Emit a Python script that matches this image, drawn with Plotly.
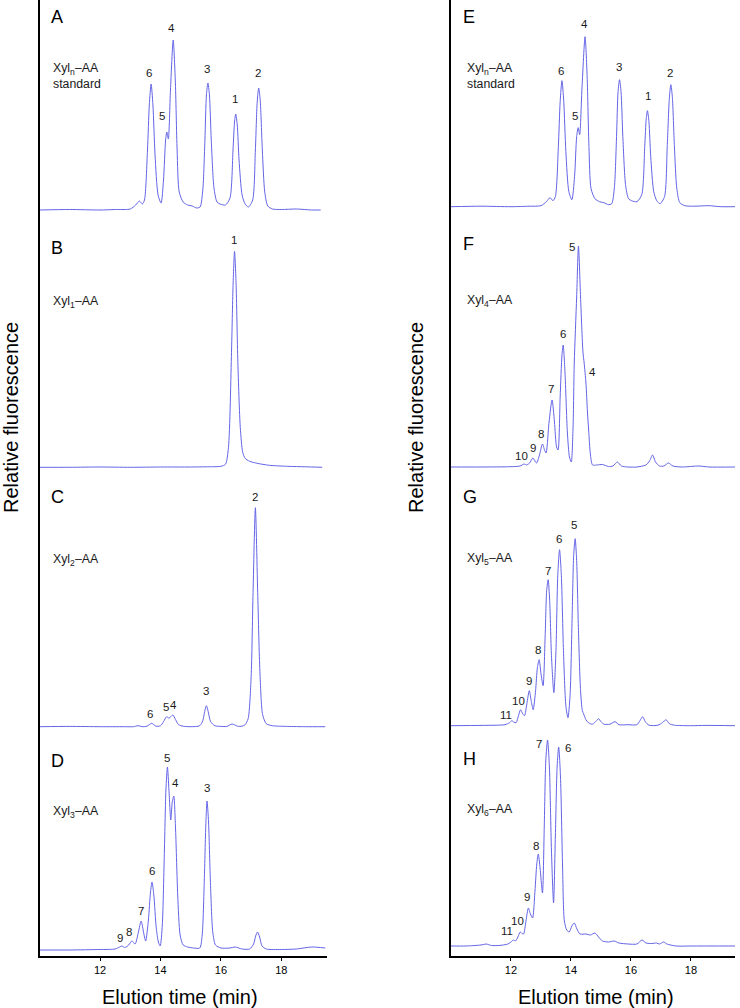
import plotly.graph_objects as go

# ---------------- data (elution time in min, relative fluorescence) ----------------
# Panel A: Xyln-AA standard
a_time = [10.0, 11.0, 12.0, 12.5, 13.0, 13.18, 13.30, 13.40, 13.47, 13.57, 13.63, 13.69, 13.75, 13.82, 13.92,
          14.02, 14.10, 14.17, 14.21, 14.26, 14.33, 14.42, 14.49, 14.55, 14.62, 14.75, 14.9, 15.05, 15.2, 15.31,
          15.40, 15.47, 15.52, 15.57, 15.62, 15.68, 15.77, 15.87, 15.97, 16.15, 16.30, 16.40, 16.45, 16.49, 16.54,
          16.60, 16.70, 16.80, 16.91, 17.05, 17.14, 17.20, 17.25, 17.30, 17.37, 17.45, 17.55, 17.7, 18.0, 18.5, 19.0, 19.3]
a_signal = [0, 0.5, 0, 0.5, 1, 5, 9, 6, 10, 60, 105, 126, 105, 55, 15,
            7, 30, 70, 78, 71, 120, 170, 130, 60, 18, 8, 5, 4, 2, 3,
            20, 70, 115, 127, 115, 70, 22, 8, 6, 5, 12, 60, 88, 96, 85,
            50, 15, 6, 3, 10, 60, 108, 122, 110, 60, 18, 4, 1, 0.5, 1, 0, 0]
a_labels = ["6", "5", "4", "3", "1", "2"]
a_label_time = [13.62, 14.05, 14.38, 15.53, 16.47, 17.23]
a_label_signal = [137, 94, 182, 141, 111, 137]

# Panel B: Xyl1-AA
b_time = [10.0, 11.0, 12.0, 13.0, 14.0, 15.0, 15.5, 16.0, 16.15, 16.25, 16.35, 16.40, 16.45, 16.50, 16.56,
          16.64, 16.72, 16.80, 16.95, 17.2, 17.6, 18.2, 18.8, 19.35]
b_signal = [0, 0, 0.3, 0, 0.3, 0.3, 0.5, 1, 3, 20, 115, 180, 216, 185, 105,
            40, 15, 9, 6, 4, 2, 1, 0.5, 0]
b_labels = ["1"]
b_label_time = [16.44]
b_label_signal = [227]

# Panel C: Xyl2-AA
c_time = [10.0, 11.0, 12.0, 12.8, 13.1, 13.26, 13.4, 13.55, 13.71, 13.85, 14.0, 14.1, 14.2, 14.28, 14.34,
          14.41, 14.5, 14.6, 14.75, 15.0, 15.3, 15.4, 15.46, 15.52, 15.58, 15.66, 15.8, 16.0, 16.2, 16.37,
          16.55, 16.7, 16.8, 16.9, 17.0, 17.06, 17.14, 17.22, 17.29, 17.38, 17.5, 17.7, 18.2, 18.8, 19.45]
c_signal = [0, 0.3, 0, 0, 0, 1, 0, 0.5, 3.4, 0.5, 1, 5, 10, 8.5, 10,
            11.7, 7, 2, 0.5, 0, 1, 6, 15, 21, 15, 5, 1, 0.3, 0.3, 2.7,
            0.5, 0.5, 2, 8, 50, 130, 219, 130, 55, 12, 3, 1, 0.3, 0, 0]
c_labels = ["2", "3", "5", "4", "6"]
c_label_time = [17.12, 15.52, 14.18, 14.44, 13.66]
c_label_signal = [230, 35.7, 20, 21.7, 12.4]

# Panel D: Xyl3-AA
d_time = [10.0, 11.0, 12.0, 12.5, 12.65, 12.72, 12.82, 12.95, 13.05, 13.16, 13.27, 13.36, 13.45, 13.51, 13.60,
          13.67, 13.72, 13.78, 13.86, 13.93, 13.99, 14.06, 14.13, 14.18, 14.23, 14.28, 14.34, 14.39, 14.44, 14.50,
          14.57, 14.65, 14.75, 14.9, 15.1, 15.3, 15.38, 15.45, 15.50, 15.54, 15.59, 15.65, 15.73, 15.82, 16.0,
          16.3, 16.47, 16.7, 16.95, 17.08, 17.15, 17.21, 17.28, 17.36, 17.5, 18.0, 18.5, 19.0, 19.45]
d_signal = [0, 0, 0.5, 1, 3, 4, 2.5, 5, 9, 6, 18, 29, 16, 9, 30,
            58, 68, 55, 22, 8, 4, 25, 100, 160, 183, 160, 130, 148, 154, 120,
            55, 15, 5, 3, 2, 2, 15, 70, 125, 149, 128, 70, 18, 5, 2,
            2, 3, 1, 1, 6, 14, 18, 13, 4, 1, 0.5, 1, 3, 2]
d_labels = ["5", "4", "3", "6", "7", "8", "9"]
d_label_time = [14.20, 14.49, 15.53, 13.73, 13.35, 12.97, 12.66]
d_label_signal = [192, 167, 162, 79, 39, 18.3, 12.3]

# Panel E: Xyln-AA standard
e_time = [10.0, 11.0, 12.0, 12.6, 13.0, 13.18, 13.30, 13.40, 13.48, 13.58, 13.64, 13.70, 13.76, 13.83, 13.93,
          14.03, 14.12, 14.19, 14.24, 14.29, 14.37, 14.47, 14.54, 14.60, 14.67, 14.8, 14.95, 15.1, 15.25, 15.36,
          15.45, 15.52, 15.57, 15.62, 15.67, 15.73, 15.82, 15.92, 16.02, 16.2, 16.36, 16.46, 16.51, 16.55, 16.60,
          16.66, 16.76, 16.86, 16.97, 17.12, 17.21, 17.28, 17.33, 17.38, 17.45, 17.53, 17.63, 17.8, 18.1, 18.6, 19.0, 19.47]
e_signal = [0, 0.5, 0, 0.5, 1, 5, 9, 6, 10, 60, 105, 126, 105, 55, 15,
            7, 30, 70, 79, 72, 120, 170, 130, 60, 18, 8, 5, 4, 2, 3,
            20, 70, 115, 127, 115, 70, 22, 8, 6, 5, 12, 60, 88, 96, 85,
            50, 15, 6, 3, 10, 60, 108, 122, 110, 60, 18, 4, 1, 0.5, 1, 0, 0]
e_labels = ["6", "5", "4", "3", "1", "2"]
e_label_time = [13.68, 14.14, 14.44, 15.61, 16.57, 17.31]
e_label_signal = [136, 90.7, 182.7, 139.4, 110.7, 133.4]

# Panel F: Xyl4-AA
f_time = [10.0, 11.0, 12.0, 12.3, 12.44, 12.52, 12.62, 12.73, 12.85, 12.95, 13.05, 13.12, 13.17, 13.27, 13.37,
          13.45, 13.52, 13.57, 13.64, 13.70, 13.74, 13.80, 13.88, 13.95, 14.01, 14.07, 14.11, 14.19, 14.25, 14.32,
          14.40, 14.44, 14.50, 14.55, 14.59, 14.65, 14.72, 14.85, 15.05, 15.25, 15.4, 15.55, 15.68, 15.9, 16.2,
          16.5, 16.62, 16.72, 16.82, 16.95, 17.1, 17.25, 17.4, 17.7, 18.27, 18.6, 19.47]
f_signal = [0, 0, 0.3, 1, 3, 2, 4, 9, 4, 12, 23, 17, 14, 45, 67,
            45, 20, 17, 70, 112, 122, 95, 35, 10, 5, 40, 104, 170, 221, 170,
            115, 104, 84, 55, 37, 12, 2, 2, 2.5, 0.5, 1, 5, 1, 0, 0,
            2, 6, 12, 5, 1, 1, 4, 1, 0, 1, 0, 0]
f_labels = ["5", "6", "4", "7", "8", "9", "10"]
f_label_time = [14.02, 13.74, 14.72, 13.35, 13.0, 12.72, 12.35]
f_label_signal = [219.7, 133, 95.3, 78, 32.7, 19.3, 11]

# Panel G: Xyl5-AA
g_time = [10.0, 11.0, 11.5, 11.8, 11.95, 12.03, 12.1, 12.17, 12.25, 12.32, 12.39, 12.45, 12.53, 12.61, 12.68,
          12.74, 12.82, 12.88, 12.94, 13.00, 13.07, 13.14, 13.19, 13.24, 13.29, 13.35, 13.43, 13.50, 13.56, 13.62,
          13.68, 13.75, 13.83, 13.90, 13.97, 14.04, 14.09, 14.14, 14.19, 14.25, 14.32, 14.38, 14.42, 14.5, 14.58,
          14.72, 14.85, 14.92, 15.0, 15.1, 15.3, 15.47, 15.6, 15.9, 16.2, 16.3, 16.39, 16.48, 16.6, 16.9,
          17.05, 17.17, 17.28, 17.45, 18.0, 18.5, 19.47]
g_signal = [0, 0.3, 0.5, 1, 3, 5, 3.5, 3, 10, 16, 12, 10, 22, 35, 24,
            16, 35, 58, 66, 52, 40, 90, 135, 146, 125, 70, 33, 75, 150, 176,
            150, 75, 20, 8, 30, 110, 170, 187, 165, 95, 35, 15, 12, 6, 3,
            1.5, 5, 7, 4, 1.5, 1.5, 4, 1, 1, 1, 5, 9, 4, 0.5, 0.5,
            3, 6, 2, 0.5, 0, 0.3, 0]
g_labels = ["5", "6", "7", "8", "9", "10", "11"]
g_label_time = [14.09, 13.61, 13.23, 12.89, 12.6, 12.25, 11.83]
g_label_signal = [200.7, 186.4, 154.7, 75.7, 45, 25, 10.7]

# Panel H: Xyl6-AA
h_time = [10.0, 10.5, 11.0, 11.17, 11.35, 11.6, 11.9, 12.0, 12.08, 12.15, 12.23, 12.31, 12.37, 12.42, 12.5,
          12.58, 12.65, 12.72, 12.80, 12.86, 12.91, 12.97, 13.05, 13.11, 13.16, 13.22, 13.28, 13.35, 13.42, 13.48,
          13.54, 13.59, 13.65, 13.72, 13.78, 13.86, 13.94, 14.03, 14.11, 14.2, 14.3, 14.5, 14.65, 14.8, 14.92,
          15.05, 15.25, 15.44, 15.6, 15.9, 16.2, 16.37, 16.5, 16.7, 16.85, 16.95, 17.09, 17.2, 17.5, 18.0, 19.47]
h_signal = [0, 0, 1, 2, 0.5, 0.5, 2, 4, 6, 5, 9, 14, 12.5, 12, 25,
            38, 32, 28, 55, 82, 92, 78, 53, 120, 185, 206, 180, 95, 43, 110,
            180, 199, 170, 80, 25, 16, 14, 20, 23, 17, 12, 12, 11, 13, 9,
            5, 4, 5, 3, 2, 2, 6, 3, 2.5, 3, 2, 4, 2, 0, 0, 0]
h_labels = ["7", "6", "8", "9", "10", "11"]
h_label_time = [12.94, 13.9, 12.85, 12.55, 12.22, 11.87]
h_label_signal = [201.7, 197.7, 100.3, 48.7, 25.3, 15]

panel_letters = ["A", "B", "C", "D", "E", "F", "G", "H"]
sample_names = ["Xyl<sub>n</sub>–AA<br>standard", "Xyl<sub>1</sub>–AA", "Xyl<sub>2</sub>–AA", "Xyl<sub>3</sub>–AA",
                "Xyl<sub>n</sub>–AA<br>standard", "Xyl<sub>4</sub>–AA", "Xyl<sub>5</sub>–AA", "Xyl<sub>6</sub>–AA"]
x_tick_values = [12, 14, 16, 18]
x_title = "Elution time (min)"
y_title = "Relative fluorescence"

series = [
    (a_time, a_signal, a_labels, a_label_time, a_label_signal),
    (b_time, b_signal, b_labels, b_label_time, b_label_signal),
    (c_time, c_signal, c_labels, c_label_time, c_label_signal),
    (d_time, d_signal, d_labels, d_label_time, d_label_signal),
    (e_time, e_signal, e_labels, e_label_time, e_label_signal),
    (f_time, f_signal, f_labels, f_label_time, f_label_signal),
    (g_time, g_signal, g_labels, g_label_time, g_label_signal),
    (h_time, h_signal, h_labels, h_label_time, h_label_signal),
]

# ---------------- layout geometry (pixels) ----------------
W, H = 740, 1008
PLOT_H = 956.0


def pxx(p):
    return p / W


def pxy(p):
    return 1 - p / PLOT_H


columns = [
    dict(x0=39.6, x1=326.7, rng=[10, 19.5], letter_x=48.5, name_x=51.0, ytitle_x=11.0, xtitle_x=180.0),
    dict(x0=451.0, x1=735.0, rng=[10, 19.47], letter_x=460.5, name_x=464.5, ytitle_x=416.0, xtitle_x=596.0),
]
# (top, bottom, baseline, letter_y, name_y) per panel
panel_geom = [
    (0, 225, 210, 17, 76.3), (225, 478, 467.3, 247.7, 302), (478, 740, 726.7, 496.7, 560), (740, 956, 950, 760.7, 811.7),
    (0, 225, 206.7, 16.7, 76.3), (225, 478, 467, 244, 300.7), (478, 733, 725.7, 497.3, 559.3), (733, 956, 946, 759.3, 810),
]

LINE_COLOR = "#6464e6"
FONT = "Liberation Sans, Arial, sans-serif"

fig = go.Figure()
annotations = []
layout_axes = {}

for i, (t, v, labs, lt, lv) in enumerate(series):
    n = i + 1
    col = columns[0] if i < 4 else columns[1]
    top, bottom, base, ly, ny = panel_geom[i]
    xa = "x" if n == 1 else f"x{n}"
    ya = "y" if n == 1 else f"y{n}"
    fig.add_trace(go.Scatter(x=t, y=v, mode="lines", xaxis=xa, yaxis=ya, showlegend=False,
                             line=dict(color=LINE_COLOR, width=1, shape="spline", smoothing=0.7),
                             hoverinfo="skip"))
    is_bottom = n in (4, 8)
    layout_axes["xaxis" if n == 1 else f"xaxis{n}"] = dict(
        domain=[pxx(col["x0"]), pxx(col["x1"])], range=col["rng"], anchor=ya,
        visible=is_bottom, showline=True, linecolor="black", linewidth=2,
        showticklabels=is_bottom,
        tickvals=x_tick_values, ticks="outside" if is_bottom else "", ticklen=3, tickwidth=1, tickcolor="black",
        tickfont=dict(family=FONT, size=11, color="black"),
        showgrid=False, zeroline=False, fixedrange=True)
    layout_axes["yaxis" if n == 1 else f"yaxis{n}"] = dict(
        domain=[pxy(bottom), pxy(top)], range=[-(bottom - base), base - top], anchor=xa,
        showline=True, linecolor="black", linewidth=2, showticklabels=False, ticks="",
        showgrid=False, zeroline=False, fixedrange=True)
    for s, xx, yy in zip(labs, lt, lv):
        annotations.append(dict(x=xx, y=yy, xref=xa, yref=ya, text=s, showarrow=False,
                                xanchor="center", yanchor="middle",
                                font=dict(family=FONT, size=11.5, color="#1a1a1a")))
    annotations.append(dict(x=pxx(col["letter_x"]), y=pxy(ly), xref="paper", yref="paper",
                            text=panel_letters[i], showarrow=False, xanchor="left", yanchor="middle",
                            font=dict(family=FONT, size=18, color="black")))
    annotations.append(dict(x=pxx(col["name_x"]), y=pxy(ny), xref="paper", yref="paper",
                            text=sample_names[i], showarrow=False, xanchor="left", yanchor="middle",
                            align="left", font=dict(family=FONT, size=12.3, color="#1a1a1a")))

for col in columns:
    annotations.append(dict(x=pxx(col["xtitle_x"]), y=pxy(997), xref="paper", yref="paper", text=x_title,
                            showarrow=False, xanchor="center", yanchor="middle",
                            font=dict(family=FONT, size=20, color="black")))
    annotations.append(dict(x=pxx(col["ytitle_x"]), y=pxy(418), xref="paper", yref="paper", text=y_title,
                            textangle=-90, showarrow=False, xanchor="center", yanchor="middle",
                            font=dict(family=FONT, size=20, color="black")))

fig.update_layout(width=W, height=H, margin=dict(l=0, r=0, t=0, b=H - PLOT_H, pad=0),
                  paper_bgcolor="white", plot_bgcolor="white", annotations=annotations,
                  font=dict(family=FONT), **layout_axes)

fig.write_html("out.html", config={"displayModeBar": False},
               post_script="document.body.style.margin='0px';document.body.style.overflow='hidden';")
